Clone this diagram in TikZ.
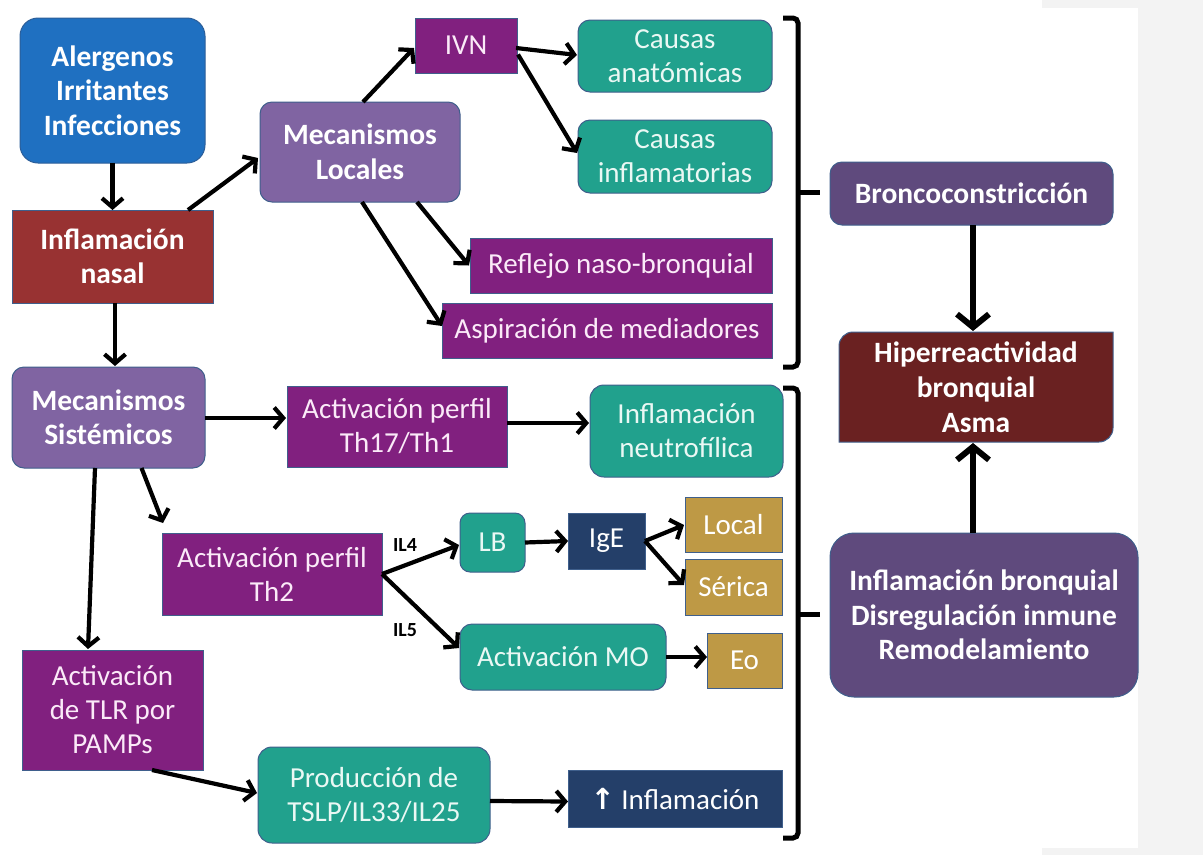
\documentclass[tikz,border=0pt]{standalone}
\usepackage{fontspec}
\setmainfont{Carlito}
\newfontfamily\symfont{DejaVu Sans}
\usetikzlibrary{arrows.meta,calc}
\definecolor{blueF}{HTML}{1F70C1}
\definecolor{blueD}{HTML}{2C5E99}
\definecolor{redF}{HTML}{983232}
\definecolor{lav}{HTML}{8064A2}
\definecolor{mag}{HTML}{81207F}
\definecolor{teal}{HTML}{21A18D}
\definecolor{navy}{HTML}{243F69}
\definecolor{gold}{HTML}{BE9945}
\definecolor{dpur}{HTML}{5F4A7D}
\definecolor{dred}{HTML}{6A2121}
\definecolor{bord}{HTML}{3F5F8C}
\definecolor{pagegray}{HTML}{F3F3F3}
\definecolor{pinktxt}{HTML}{FBEAF8}
\definecolor{teatxt}{HTML}{EAF8F4}
\begin{document}
\begin{tikzpicture}[x=1pt,y=-1pt,
  box/.style={inner sep=0pt, outer sep=0pt, draw=bord, line width=1pt, text=white, align=center,
    font=\fontsize{29}{34}\selectfont},
  bbox/.style={box, font=\bfseries\fontsize{29.5}{34.5}\selectfont},
  magbox/.style={box, fill=mag, text=pinktxt},
  teabox/.style={box, fill=teal, text=teatxt, rounded corners=12pt},
  rnd/.style={rounded corners=12pt},
  arr/.style={line width=4.2pt, -{Straight Barb[length=9pt,width=21pt]}},
  bigarr/.style={line width=6pt, -{Straight Barb[length=13pt,width=32pt]}},
  brk/.style={line width=5pt, rounded corners=5pt},
  lbl/.style={inner sep=0pt, font=\bfseries\fontsize{20}{24}\selectfont}
]
% background
\fill[pagegray] (0,0) rectangle (1203,855);
\fill[white] (0,0) rectangle (1042,855);
\fill[white] (1042,8) rectangle (1138,848);
\useasboundingbox (0,0) rectangle (1203,855);

% nodes
\node[bbox, fill=blueF, draw=blueD, rounded corners=18pt, minimum width=185pt, minimum height=145pt] (aler) at (112.5,90.5) {Alergenos\\Irritantes\\Infecciones};
\node[bbox, fill=redF, minimum width=201pt, minimum height=93pt] (nasal) at (112.5,256.5) {Inflamación\\nasal};
\node[bbox, fill=lav, rnd, minimum width=200pt, minimum height=100pt] (mloc) at (360,152) {Mecanismos\\Locales};
\node[magbox, minimum width=102pt, minimum height=55pt] (ivn) at (466,45.5) {IVN};
\node[teabox, minimum width=194pt, minimum height=72pt] (canat) at (675,56) {Causas\\anatómicas};
\node[teabox, minimum width=194pt, minimum height=73pt] (cinfl) at (675,156.5) {Causas\\inflamatorias};
\node[magbox, minimum width=302pt, minimum height=55pt] (refl) at (621,265.5) {Reflejo naso-bronquial};
\node[magbox, minimum width=330pt, minimum height=55pt] (aspi) at (607,330.5) {Aspiración de mediadores};

\node[bbox, fill=dpur, rnd, minimum width=283pt, minimum height=63pt] (bronco) at (971.5,193.5) {Broncoconstricción};
\node[inner sep=0pt, outer sep=0pt, minimum width=274pt, minimum height=110pt] (hip) at (976,387) {};
\filldraw[fill=dred, draw=bord, line width=1pt]
  (839,442) -- (839,346) .. controls (839,338.3) and (845.3,332) .. (853,332)
  -- (1113,332) -- (1113,428) .. controls (1113,435.7) and (1106.7,442) .. (1099,442) -- cycle;
\node[text=white, align=center, font=\bfseries\fontsize{29.5}{35}\selectfont] at (hip.center) {Hiperreactividad\\bronquial\\Asma};
\node[bbox, fill=dpur, rounded corners=24pt, minimum width=308pt, minimum height=164pt] (ibron) at (984,615) {Inflamación bronquial\\Disregulación inmune\\Remodelamiento};

\node[bbox, fill=lav, rnd, minimum width=193pt, minimum height=101pt] (msis) at (108.5,417.5) {Mecanismos\\Sistémicos};
\node[magbox, minimum width=220pt, minimum height=81pt] (th17) at (397,426.5) {Activación perfil\\Th17/Th1};
\node[teabox, rounded corners=14pt, minimum width=193pt, minimum height=92pt] (neutro) at (686.5,431) {Inflamación\\neutrofílica};
\node[magbox, minimum width=220pt, minimum height=82pt] (th2) at (272,574) {Activación perfil\\Th2};
\node[teabox, rounded corners=10pt, minimum width=65pt, minimum height=59pt] (lb) at (492.5,542.5) {LB};
\node[box, fill=navy, minimum width=77pt, minimum height=56pt] (ige) at (606.5,541) {IgE};
\node[box, fill=gold, minimum width=97pt, minimum height=55pt] (local) at (733.5,524.5) {Local};
\node[box, fill=gold, minimum width=97pt, minimum height=56pt] (serica) at (733.5,587) {Sérica};
\node[teabox, minimum width=206pt, minimum height=66pt] (mo) at (563,657) {Activación MO};
\node[box, fill=gold, minimum width=75pt, minimum height=55pt] (eo) at (744.5,660.5) {Eo};
\node[magbox, minimum width=181pt, minimum height=120pt] (tlr) at (112.5,710) {Activación\\de TLR por\\PAMPs};
\node[teabox, rounded corners=14pt, minimum width=232pt, minimum height=96pt] (prod) at (374,795) {Producción de\\TSLP/IL33/IL25};
\node[box, fill=navy, minimum width=214pt, minimum height=57pt] (infl) at (675,798.5) {{\symfont\bfseries ↑}\ Inflamación};

\node[lbl] (il4) at (405,545) {IL4};
\node[lbl] (il5) at (405,630) {IL5};

% brackets
\draw[brk] (783,18) -- (798,18) -- (798,367) -- (783,367);
\draw[line width=5pt] (798,192) -- (820,192);
\draw[brk] (783,388) -- (798,388) -- (798,838) -- (783,838);
\draw[line width=5pt] (798,614) -- (820,614);

% connectors
\draw[arr] (aler.south) -- (nasal.north);
\draw[arr] ($(nasal.south)+(2.5,0)$) -- ($(msis.north)+(6.5,-1)$);
\draw[arr] ($(nasal.north east)+(-25,0)$) -- ($(mloc.west)+(-2,6)$);
\draw[arr] ($(mloc.north)+(3,0)$) -- ($(ivn.west)+(-1,2.5)$);
\draw[arr] ($(ivn.east)+(-1,2.5)$) -- ($(canat.west)+(-1,-1)$);
\draw[arr] ($(ivn.east)+(1,9)$) -- ($(cinfl.west)+(-1,-3.5)$);
\draw[arr] ($(mloc.south)+(57,0)$) -- ($(refl.west)+(-1,0)$);
\draw[arr] ($(mloc.south)+(2,0)$) -- ($(aspi.west)+(0,-4.5)$);
\draw[arr] ($(msis.east)+(0,0.5)$) -- ($(th17.west)+(-1,-8.5)$);
\draw[arr] ($(msis.south)+(33,0)$) -- ($(th2.north west)+(1,-10)$);
\draw[arr] ($(msis.south)+(-13.5,0)$) -- ($(tlr.north)+(-24.5,-1)$);
\draw[arr] ($(th17.east)+(0,-3.5)$) -- ($(neutro.west)+(-1,-8)$);
\draw[arr] (th2.east) -- ($(lb.west)+(-1,2.5)$);
\draw[arr] (th2.east) -- ($(mo.west)+(-1,-9)$);
\draw[arr] (lb.east) -- (ige.west);
\draw[arr] (ige.east) -- ($(local.west)+(-1,0.5)$);
\draw[arr] (ige.east) -- ($(serica.west)+(-1,-2)$);
\draw[arr] (mo.east) -- ($(eo.west)+(0,-3.5)$);
\draw[arr] ($(tlr.south)+(39.5,0)$) -- ($(prod.west)+(-1,-2)$);
\draw[arr] ($(prod.east)+(0,6)$) -- ($(infl.west)+(0,3)$);
\draw[bigarr] ($(bronco.south)+(1.5,0)$) -- ($(hip.north)+(-3,-1)$);
\draw[bigarr] ($(ibron.north)+(-11,0)$) -- ($(hip.south)+(-3,1)$);
\end{tikzpicture}
\end{document}
